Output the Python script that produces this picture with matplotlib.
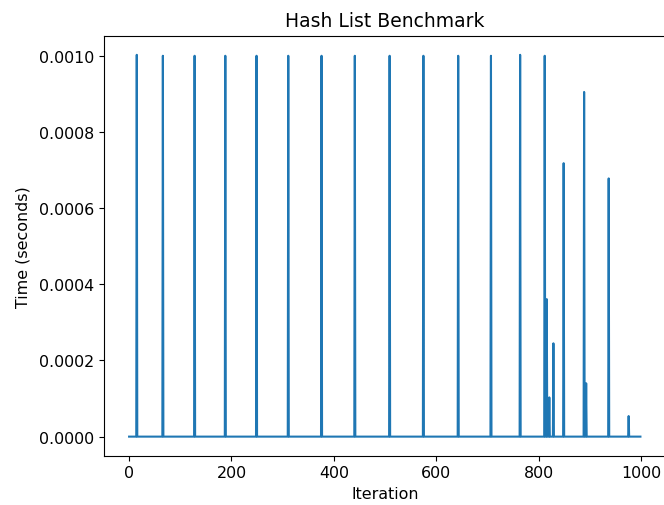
import numpy as np
import matplotlib
matplotlib.use("Agg")
import matplotlib.pyplot as plt

# Benchmark timings: almost all iterations ~0, with occasional spikes
n_iterations = 1000
spike_iters = [15, 66, 128, 188, 249, 311, 376, 441, 509, 575, 643, 707, 764,
               812, 816, 821, 829, 849, 889, 893, 937, 976]
spike_times = [0.0010025, 0.0010, 0.0010, 0.0010, 0.0010, 0.0010, 0.0010,
               0.0010, 0.0010, 0.0010, 0.0010, 0.0010, 0.0010025,
               0.0010, 0.000361, 0.000103, 0.000245, 0.000718, 0.000905,
               0.00014, 0.000678, 0.000054]

iterations = np.arange(n_iterations)
times = np.zeros(n_iterations)
times[spike_iters] = spike_times

# text in the reference is a bit larger than matplotlib defaults
label_size = 11.4
title_size = 13.5

fig = plt.figure(figsize=(6.64, 5.06), dpi=100)
ax = fig.add_axes([0.1559, 0.0974, 0.8471, 0.8300])
ax.plot(iterations, times)

ax.set_title("Hash List Benchmark", fontsize=title_size, pad=7)
ax.set_xlabel("Iteration", fontsize=label_size)
ax.set_ylabel("Time (seconds)", fontsize=label_size, labelpad=6)
ax.tick_params(labelsize=label_size)

plt.savefig("out.png", dpi=100)
plt.close()
